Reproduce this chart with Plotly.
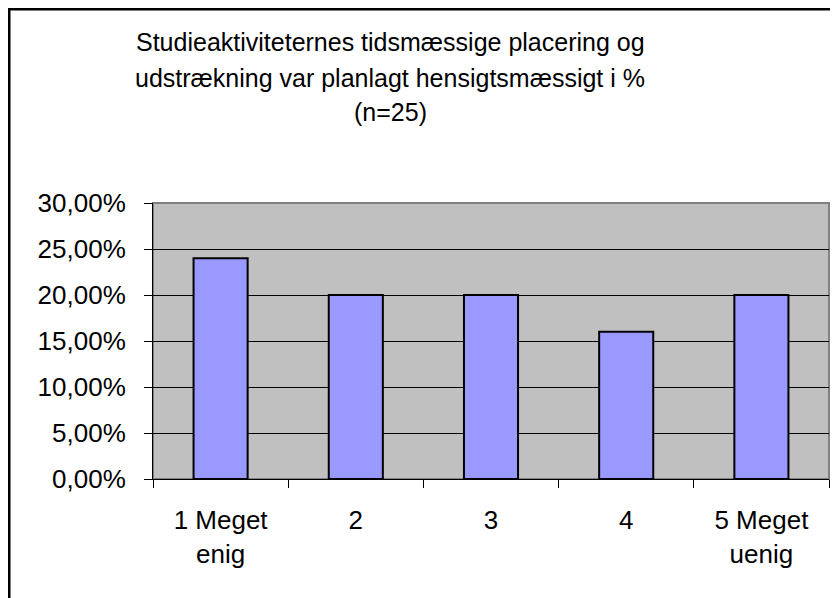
import plotly.graph_objects as go

# ============================
# DADOS
# ============================

categorias = ["1 Meget<br>enig", "2", "3", "4", "5 Meget<br>uenig"]
andele = [0.24, 0.20, 0.20, 0.16, 0.20]

titel_linjer = [
    "Studieaktiviteternes tidsmæssige placering og",
    "udstrækning var planlagt hensigtsmæssigt i %",
    "(n=25)",
]

# ============================
# GEOMETRI (pixels i figuren)
# ============================

W, H = 838, 598
PL, PR, PT, PB = 145, 821, 195, 471
FONT = "Arial, Liberation Sans, sans-serif"


def px_x(x):
    return (x - PL) / (PR - PL)


def px_y(y):
    return (PB - y) / (PB - PT)


fig = go.Figure()

fig.add_trace(go.Bar(
    x=categorias,
    y=andele,
    marker=dict(color="#9999FF", line=dict(color="#000000", width=2)),
    hoverinfo="skip",
))

# titel som tre linjer (Excel-afstand)
for linje, cy in zip(titel_linjer, [33.5, 69.5, 104]):
    fig.add_annotation(
        text=linje,
        xref="paper", yref="paper",
        x=px_x(382), y=px_y(cy),
        xanchor="center", yanchor="middle",
        showarrow=False,
        font=dict(family=FONT, size=25, color="#000000"),
    )

# ydre ramme
fig.add_shape(
    type="rect",
    xref="paper", yref="paper",
    x0=px_x(1), x1=px_x(W + 20),
    y0=px_y(H + 20), y1=px_y(1),
    line=dict(color="#000000", width=3),
)

# ramme om plotområdet (grå top/højre)
fig.add_shape(
    type="rect",
    xref="paper", yref="paper",
    x0=0, x1=1, y0=0, y1=1,
    line=dict(color="#808080", width=2),
    layer="below",
)

fig.update_layout(
    width=W,
    height=H,
    margin=dict(l=PL, r=W - PR, t=PT, b=H - PB, autoexpand=False),
    paper_bgcolor="#FFFFFF",
    plot_bgcolor="#C0C0C0",
    bargap=0.6,
    showlegend=False,
    separators=",.",
    font=dict(family=FONT, size=26, color="#000000"),
)

fig.update_xaxes(
    type="category",
    showgrid=False,
    showline=True,
    linecolor="#000000",
    linewidth=1,
    ticks="outside",
    tickson="boundaries",
    ticklen=8,
    tickcolor="#000000",
    tickfont=dict(family=FONT, size=26, color="#000000"),
    ticklabelstandoff=18,
)

fig.update_yaxes(
    range=[0, 0.30],
    dtick=0.05,
    tickformat=".2%",
    showgrid=True,
    gridcolor="#000000",
    gridwidth=1,
    zeroline=False,
    showline=True,
    linecolor="#000000",
    linewidth=1,
    ticks="outside",
    ticklen=8,
    tickcolor="#000000",
    tickfont=dict(family=FONT, size=26, color="#000000"),
    ticklabelstandoff=13,
)

fig.write_html("out.html")
